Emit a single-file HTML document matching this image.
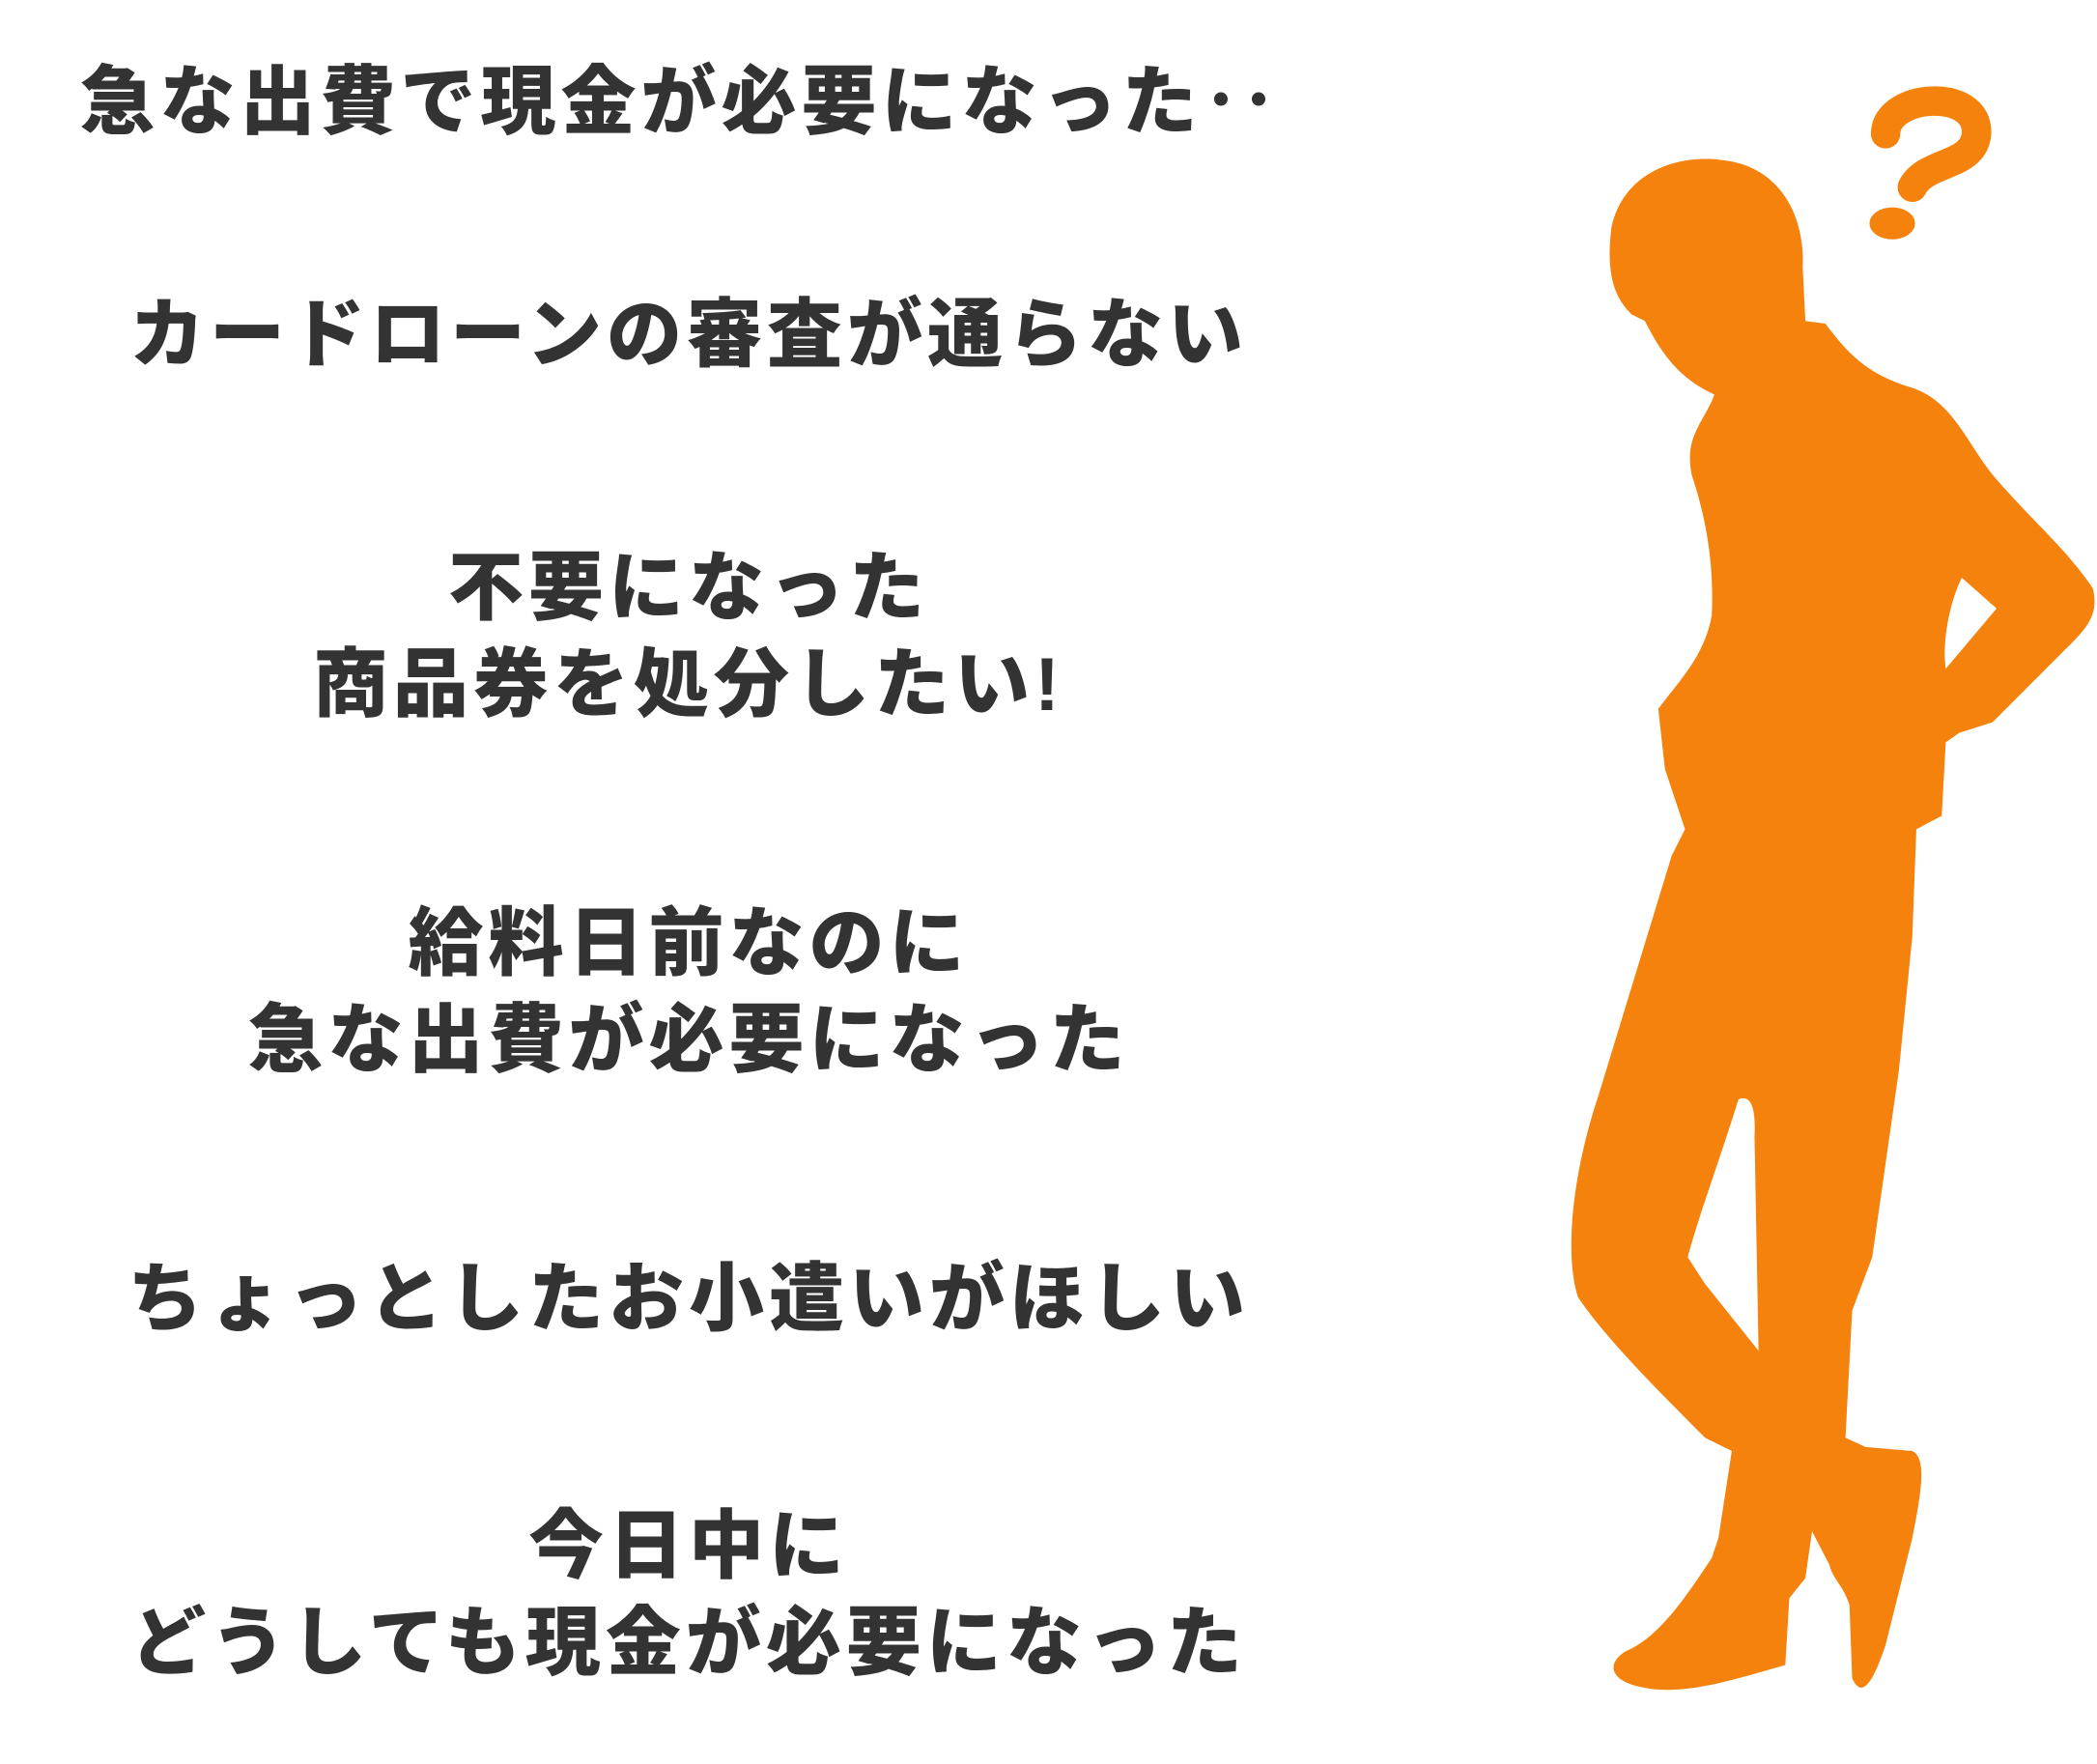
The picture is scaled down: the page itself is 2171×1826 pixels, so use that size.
<!DOCTYPE html>
<html><head><meta charset="utf-8"><style>
html,body{margin:0;padding:0;background:#fff;}
body{width:2171px;height:1826px;position:relative;overflow:hidden;font-family:"Liberation Sans","Noto Sans CJK JP",sans-serif;}
.t{position:absolute;left:0;width:1426px;text-align:center;color:#333;font-weight:900;font-size:78px;line-height:100px;letter-spacing:5px;white-space:nowrap;}
svg{position:absolute;left:0;top:0;}
</style></head><body>
<div class="t" style="top:55px;left:0;width:1410px;">急な出費で現金が必要になった‥</div>
<div class="t" style="top:296px;">カードローンの審査が通らない</div>
<div class="t" style="top:558px;">不要になった<br>商品券を処分したい!</div>
<div class="t" style="top:926px;">給料日前なのに<br>急な出費が必要になった</div>
<div class="t" style="top:1294px;">ちょっとしたお小遣いがほしい</div>
<div class="t" style="top:1550px;">今日中に<br>どうしても現金が必要になった</div>
<svg width="2171" height="1826" viewBox="0 0 1568 1319">
<path fill="#F5820D" d="M1205,170 C1215,125 1260,115 1290,120 C1330,125 1350,160 1348,200 L1350,240 L1365,242 C1380,262 1395,280 1430,290 C1460,300 1470,330 1490,355 C1520,390 1545,410 1565,440 C1570,460 1560,470 1545,485 L1490,540 L1465,548 L1455,555 L1452,610 L1433,620 L1430,700 L1420,800 L1400,940 L1385,980 L1380,1075 L1395,1082 L1430,1085 C1440,1090 1438,1110 1430,1150 L1410,1230 C1400,1260 1392,1270 1385,1255 L1383,1200 C1378,1185 1370,1180 1368,1170 L1355,1145 L1350,1180 L1338,1195 L1335,1245 C1300,1255 1260,1268 1230,1262 C1205,1258 1200,1245 1215,1235 C1240,1225 1260,1195 1280,1165 L1285,1150 L1295,1085 L1275,1075 C1240,1040 1200,1000 1180,970 C1170,940 1175,880 1195,820 L1250,640 L1260,620 L1245,575 L1240,530 C1255,510 1275,490 1280,460 C1282,420 1275,385 1265,355 C1260,330 1270,320 1280,300 L1282,295 C1260,285 1245,270 1230,240 L1220,235 C1210,225 1200,210 1205,170 Z"/>
<path fill="#fff" d="M1300,822 C1310,818 1313,830 1312,850 L1315,1010 L1275,960 L1262,940 C1270,910 1285,870 1300,822 Z"/>
<path fill="#fff" d="M1467,432 L1493,455 L1455,500 C1452,480 1458,450 1467,432 Z"/>
<path fill="none" stroke="#F5820D" stroke-width="22" stroke-linecap="round" d="M1410,100 C1410,70 1480,65 1478,100 C1476,125 1440,120 1430,140"/>
<ellipse cx="1415" cy="167" rx="17" ry="12" fill="#F5820D"/>
</svg>
</body></html>
